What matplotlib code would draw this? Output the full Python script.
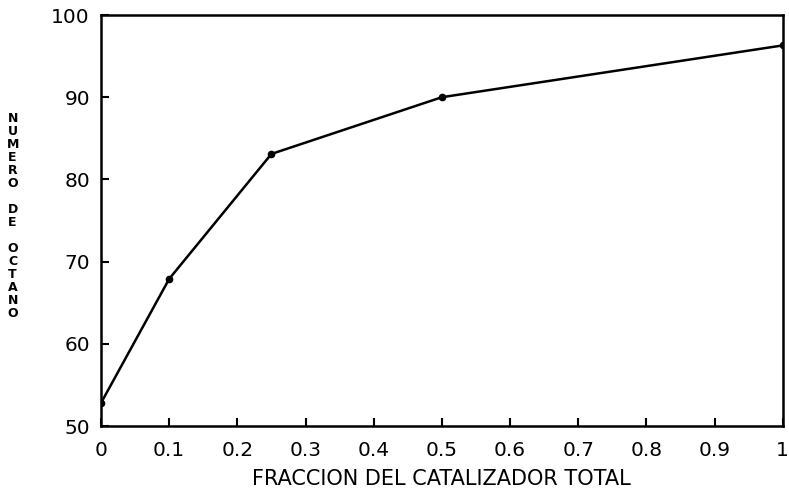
import matplotlib
matplotlib.use("Agg")
import matplotlib.pyplot as plt

# fraccion del catalizador total vs numero de octano
fraccion = [0, 0.1, 0.25, 0.5, 1.0]
octano = [52.8, 67.9, 83.1, 90.0, 96.3]

xticks = [0, 0.1, 0.2, 0.3, 0.4, 0.5, 0.6, 0.7, 0.8, 0.9, 1]
yticks = [50, 60, 70, 80, 90, 100]

plt.rcParams['font.family'] = ['DejaVu Sans']

fig = plt.figure(figsize=(7.89, 4.92), dpi=100)
ax = fig.add_axes([0.128, 0.134, 0.864, 0.8355])

ax.plot(fraccion, octano, color='black', linewidth=1.8,
        marker='o', markersize=4.5)

ax.set_xlim(0, 1)
ax.set_ylim(50, 100)
ax.set_xticks(xticks)
ax.set_xticklabels([f"{t:g}" for t in xticks])
ax.set_yticks(yticks)

for s in ax.spines.values():
    s.set_linewidth(1.8)
ax.tick_params(direction='in', length=6, width=1.5, labelsize=14.5, pad=8)
ax.tick_params(axis='x', pad=11)

ax.set_xlabel("FRACCION DEL CATALIZADOR TOTAL", fontsize=15, labelpad=6)

# vertical stacked label
fig.text(0.016, 0.56, "\n".join("NUMERO DE OCTANO"), fontsize=9,
         fontweight='bold', ha='center', va='center', linespacing=1.0)

fig.savefig("out.png", dpi=100)
